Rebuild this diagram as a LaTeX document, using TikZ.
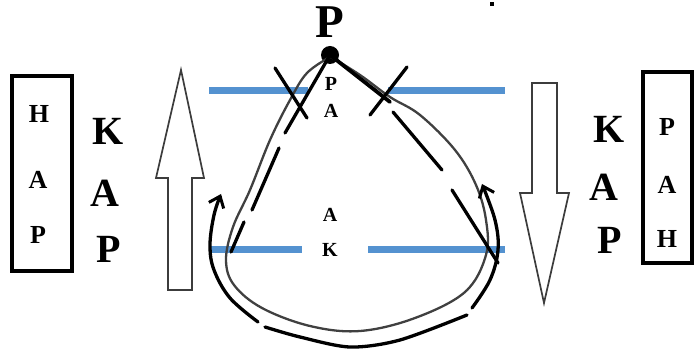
\documentclass[tikz,border=0pt]{standalone}
\usepackage{fontspec}
\setmainfont{Liberation Serif}
\usetikzlibrary{arrows.meta}
\definecolor{barblue}{RGB}{84,146,208}
\definecolor{outl}{RGB}{60,60,60}
\tikzset{
  bigl/.style={font=\bfseries\fontsize{40}{40}\selectfont, inner sep=0pt},
  boxl/.style={font=\bfseries\fontsize{26}{26}\selectfont, inner sep=0pt},
  smalll/.style={font=\bfseries\fontsize{20}{20}\selectfont, inner sep=0pt},
  bar/.style={barblue, line width=7pt},
  frame/.style={draw=black, line width=3.4pt},
  hollow/.style={draw=outl, line width=1.7pt, fill=white, line join=miter},
  hand/.style={black, line width=3.3pt, line cap=round},
  loopline/.style={black!75, line width=2.3pt},
  barb/.style={-{Straight Barb[length=10pt,width=16pt,line width=3pt]}}
}
\begin{document}
\begin{tikzpicture}[x=1pt,y=-1pt]
\useasboundingbox (0,0) rectangle (696,355);
% frames
\draw[frame] (12,76) rectangle (72,271);
\draw[frame] (643,72) rectangle (692,263);
\node[boxl] (lh) at (39,114) {H};
\node[boxl] (la) at (38,180) {A};
\node[boxl] (lp) at (38,235) {P};
\node[boxl] (rp) at (667,127) {P};
\node[boxl] (ra) at (667,185) {A};
\node[boxl] (rh) at (667,239) {H};
% big letters
\node[bigl] (lk2) at (108,131) {K};
\node[bigl] (la2) at (105,193) {A};
\node[bigl] (lp2) at (109,249) {P};
\node[bigl] (rk2) at (609,129) {K};
\node[bigl] (ra2) at (604,187) {A};
\node[bigl] (rp2) at (610,240) {P};
% hollow arrows
\draw[hollow] (168,290) -- (168,178) -- (156,178) -- (181,70) -- (204,178) -- (192,178) -- (192,290) -- cycle;
\draw[hollow] (532,83) -- (557,83) -- (557,193) -- (569,193) -- (544,303) -- (520,193) -- (532,193) -- cycle;
% bars
\draw[bar] (209,91) -- (308,91);
\draw[bar] (388,91) -- (505,91);
\draw[bar] (210,250) -- (302,250);
\draw[bar] (368,250) -- (505,250);
% top
\node[font=\bfseries\fontsize{47}{47}\selectfont, inner sep=0pt] (topp) at (330,22) {P};
\fill (330,55) circle (9pt);
\coordinate (apex) at (330,55);
\node[smalll] (sp) at (331,84) {P};
\node[smalll] (sa) at (331,111) {A};
\node[smalll] (ba) at (330,215) {A};
\node[smalll] (bk) at (330,250) {K};
% gray teardrop loop
\draw[loopline] plot[smooth, tension=0.6] coordinates {(330,57) (307,73) (290,100) (270,140) (250,190) (233,227) (226,260) (234,285) (262,308) (310,326) (360,331) (415,318) (465,292) (486,255) (486,220) (476,185) (455,150) (420,115) (390,97) (360,75) (331,57)};
% dashed triangle
\draw[hand] (apex) -- (285,133);
\draw[hand] (279,148) -- (252,210);
\draw[hand] (244,222) -- (231,252);
\draw[hand, line width=3.8pt] (apex) -- (390,102);
\draw[hand] (393,112) -- (442,170);
\draw[hand] (452,190) -- (498,263);
% X strokes
\draw[hand] (275,68) -- (307,118);
\draw[hand] (407,67) -- (370,115);
% hand-drawn loop arrow
\draw[hand, barb] plot[smooth, tension=0.6] coordinates {(258,322) (230,298) (214,270) (210,245) (214,215) (221,194)};
\draw[hand] plot[smooth, tension=0.5] coordinates {(265,327) (300,337) (350,347) (400,340) (467,315)};
\draw[hand, barb] plot[smooth, tension=0.6] coordinates {(472,308) (490,280) (498,250) (495,220) (482,184)};
% tiny mark
\fill (490,2) rectangle (494,6);
\end{tikzpicture}
\end{document}
